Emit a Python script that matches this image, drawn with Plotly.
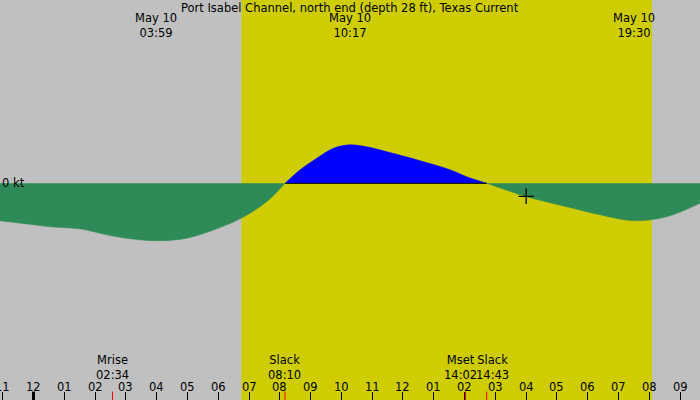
import numpy as np
import plotly.graph_objects as go

# hours after midnight, May 10
hours = [-1.09, 0.0, 0.54, 1.6, 2.16, 2.8, 3.98, 4.97, 5.95, 6.74, 7.57, 8.17,
         8.66, 9.2, 9.74, 10.28, 10.82, 11.36, 12.45, 13.53, 14.07, 14.72,
         16.02, 17.32, 18.4, 19.5, 20.56, 21.65]
knots = [-0.75, -0.83, -0.87, -0.92, -1.00, -1.08, -1.15, -1.10, -0.91, -0.70,
         -0.37, 0.0, 0.27, 0.50, 0.70, 0.77, 0.73, 0.65, 0.47, 0.27, 0.13, 0.0,
         -0.27, -0.47, -0.63, -0.75, -0.67, -0.40]

peak_times = [3.983, 10.283, 19.5]
peak_labels = ["May 10<br>03:59", "May 10<br>10:17", "May 10<br>19:30"]

event_times = [2.567, 8.167, 14.033, 14.717]
event_labels = ["Mrise<br>02:34", "Slack<br>08:10", "Mset<br>14:02", "Slack<br>14:43"]
event_shift = [0, 0, -5, 6]

slack_times = [8.17, 14.72]
sunrise, sunset = 6.75, 20.09
now_time, now_knots = 16.0, -0.26

tick_hours = list(range(-1, 22))
tick_text = ["%02d" % ((h - 1) % 12 + 1) for h in tick_hours]

TITLE = "Port Isabel Channel, north end (depth 28 ft), Texas Current"
FONT = "DejaVu Sans"
FSIZE = 11.5

t = np.array(hours)
v = np.array(knots)
seg_ebb1 = t <= slack_times[0]
seg_flood = (t >= slack_times[0]) & (t <= slack_times[1])
seg_ebb2 = t >= slack_times[1]

fig = go.Figure()
for mask, color in [(seg_ebb1, "#2E8B57"), (seg_flood, "#0000FF"), (seg_ebb2, "#2E8B57")]:
    fig.add_trace(go.Scatter(
        x=t[mask], y=v[mask], mode="lines", fill="tozeroy",
        fillcolor=color, line=dict(color=color, width=0.5, shape="spline", smoothing=1.0),
        hoverinfo="skip",
    ))

# zero line under the flood part only
fig.add_trace(go.Scatter(
    x=slack_times, y=[0, 0], mode="lines",
    line=dict(color="black", width=1), hoverinfo="skip",
))

fig.add_trace(go.Scatter(
    x=[now_time], y=[now_knots], mode="markers",
    marker=dict(symbol="cross-thin", size=11, line=dict(color="black", width=1.3)),
    hoverinfo="skip",
))

shapes = [dict(type="rect", xref="x", yref="paper", x0=sunrise, x1=sunset, y0=0, y1=1,
               fillcolor="rgb(207,205,0)", line=dict(width=0), layer="below")]
# thick midnight tick
shapes.append(dict(type="line", xref="x", yref="paper", x0=0, x1=0, y0=0, y1=0.021,
                   line=dict(color="black", width=3)))
for et in event_times:
    shapes.append(dict(type="line", xref="x", yref="paper", x0=et, x1=et, y0=0, y1=0.021,
                       line=dict(color="red", width=1)))

annotations = [dict(text=TITLE, xref="paper", yref="paper", x=0.5, y=1 - 7.5 / 400,
                    showarrow=False, yanchor="middle")]
for pt, lab in zip(peak_times, peak_labels):
    annotations.append(dict(text=lab, xref="x", yref="paper", x=pt, y=1 - 25 / 400,
                            showarrow=False, yanchor="middle"))
for et, lab, sh in zip(event_times, event_labels, event_shift):
    annotations.append(dict(text=lab, xref="x", yref="paper", x=et, y=1 - 367 / 400,
                            xshift=sh, showarrow=False, yanchor="middle"))
for th, tt in zip(tick_hours, tick_text):
    annotations.append(dict(text=tt, xref="x", yref="paper", x=th, y=1 - 386.5 / 400,
                            showarrow=False, yanchor="middle"))
annotations.append(dict(text="0 kt", xref="paper", yref="y", x=0, y=0, xanchor="left",
                        yanchor="middle", showarrow=False))

fig.update_layout(
    width=700, height=400,
    margin=dict(l=0, r=0, t=0, b=0, pad=0, autoexpand=False),
    paper_bgcolor="#C0C0C0", plot_bgcolor="#C0C0C0",
    font=dict(family=FONT, size=FSIZE, color="black"),
    showlegend=False,
    shapes=shapes,
    annotations=annotations,
    xaxis=dict(range=[-1.088, 21.646], tickvals=tick_hours, showticklabels=False,
               ticks="inside", ticklen=8, tickcolor="black", tickwidth=1,
               showgrid=False, zeroline=False, showline=False, fixedrange=True),
    yaxis=dict(range=[-4.334, 3.666], visible=False, showgrid=False, zeroline=False,
               fixedrange=True),
)

# page has a default 8px body margin; drop it so the chart fills the window
fig.write_html("out.html", config={"displayModeBar": False},
               post_script="document.body.style.margin='0';")
